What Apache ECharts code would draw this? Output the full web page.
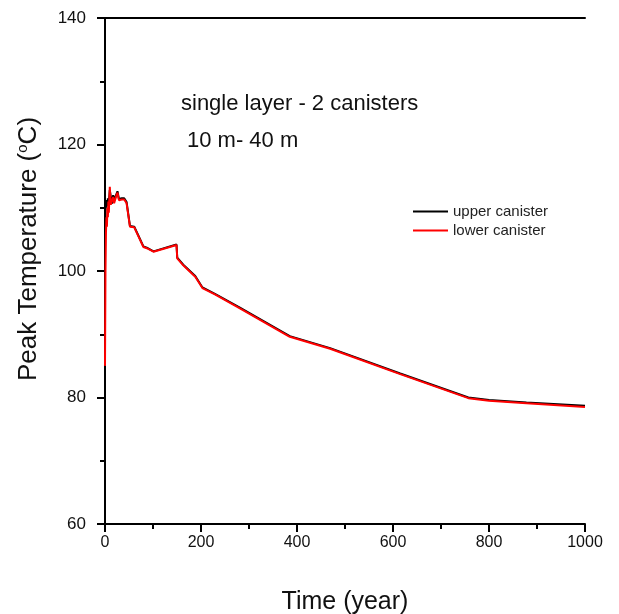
<!DOCTYPE html>
<html><head><meta charset="utf-8">
<script src="https://cdn.jsdelivr.net/npm/echarts@6/dist/echarts.min.js"></script>
<style>html,body{margin:0;padding:0;background:#fff}#c{width:619px;height:614px}</style>
</head><body><div id="c"></div>
<script>
const xTicks = [0, 200, 400, 600, 800, 1000];
const yTicks = [60, 80, 100, 120, 140];
const upperTime = [0, 1, 2, 3, 4, 5, 6, 8, 10, 12, 14, 17, 19, 21, 24, 26, 29, 35, 40, 45, 52, 61, 80, 87, 101, 149, 150.5, 163, 188, 203, 229, 281, 385, 469, 615, 757, 800, 878, 1000];
const upperTemp = [106, 109.5, 110.5, 110, 111.2, 110.3, 111.5, 110.8, 112.8, 111.8, 110.6, 112.0, 111.2, 111.4, 112.2, 112.6, 111.4, 111.5, 111.5, 110.9, 107.1, 107.0, 103.9, 103.7, 103.1, 104.2, 102.1, 101.0, 99.2, 97.4, 96.4, 94.2, 89.7, 87.8, 83.8, 80.0, 79.6, 79.2, 78.7];
const lowerTime = [0, 1, 2, 3, 4, 5, 6, 7, 8, 10, 12, 14, 17, 19, 21, 24, 26, 29, 35, 40, 45, 52, 61, 80, 87, 101, 149, 150.5, 163, 188, 203, 229, 281, 385, 469, 615, 757, 800, 878, 1000];
const lowerTemp = [85, 100, 106, 108.5, 107, 110, 108.5, 111, 109.2, 113.3, 110.5, 110.2, 111.7, 110.7, 111.0, 112.0, 112.4, 111.2, 111.3, 111.3, 110.7, 107.0, 106.9, 103.8, 103.6, 103.05, 104.1, 102.0, 100.9, 99.1, 97.3, 96.3, 94.1, 89.6, 87.7, 83.7, 79.9, 79.5, 79.1, 78.5];
const seriesNames = ['upper canister', 'lower canister'];
const xName = 'Time (year)';
const yNameMain = 'Peak Temperature (';
const yNameSup = 'o';
const yNameEnd = 'C)';
const annotation1 = 'single layer - 2 canisters';
const annotation2 = '10 m- 40 m';

const pair = (xs, ys) => xs.map((x, i) => [x, ys[i]]);
const F = 'Arial, "Liberation Sans", sans-serif';
const chart = echarts.init(document.getElementById('c'));
chart.setOption({
  animation: false,
  backgroundColor: '#fff',
  grid: { left: 105, top: 18, width: 480, height: 506, show: false, containLabel: false, outerBoundsMode: 'none' },
  legend: {
    left: 408, top: 199, orient: 'vertical', itemWidth: 35, itemHeight: 2, itemGap: 4,
    icon: 'rect',
    textStyle: { fontFamily: F, fontSize: 15, color: '#222' },
    data: seriesNames
  },
  xAxis: [{
    type: 'value', min: 0, max: 1000, interval: 200,
    name: xName, nameLocation: 'middle', nameGap: 66,
    nameTextStyle: { fontFamily: F, fontSize: 25, color: '#111' },
    axisLine: { lineStyle: { color: '#000', width: 2 } },
    axisTick: { inside: false, length: 8, lineStyle: { color: '#000', width: 2 } },
    minorTick: { show: true, splitNumber: 2, length: 5, lineStyle: { color: '#000', width: 2 } },
    axisLabel: { fontFamily: F, fontSize: 16, color: '#111', margin: 11, formatter: v => xTicks.includes(v) ? String(v) : '' },
    splitLine: { show: false }
  }, {
    type: 'value', min: 0, max: 1000, position: 'top',
    axisLine: { show: true, lineStyle: { color: '#000', width: 2 } },
    axisTick: { show: false }, axisLabel: { show: false }, splitLine: { show: false }
  }],
  yAxis: [{
    type: 'value', min: 60, max: 140, interval: 20,
    axisLine: { lineStyle: { color: '#000', width: 2 } },
    axisTick: { inside: false, length: 8, lineStyle: { color: '#000', width: 2 } },
    minorTick: { show: true, splitNumber: 2, length: 5, lineStyle: { color: '#000', width: 2 } },
    axisLabel: { fontFamily: F, fontSize: 17, color: '#111', margin: 19, formatter: v => yTicks.includes(v) ? String(v) : '' },
    splitLine: { show: false }
  }, {
    type: 'value', min: 60, max: 140, position: 'right',
    axisLine: { show: true, lineStyle: { color: '#000', width: 2 } },
    axisTick: { show: false }, axisLabel: { show: false }, splitLine: { show: false }
  }],
  graphic: [
    { type: 'text', left: 181, top: 93, style: { text: annotation1, font: '22px ' + F, fill: '#111' } },
    { type: 'text', left: 187, top: 130, style: { text: annotation2, font: '22px ' + F, fill: '#111' } },
    { type: 'text', x: 29, y: 249, rotation: Math.PI / 2,
      style: {
        text: '{n|' + yNameMain + '}{s|' + yNameSup + '}{n|' + yNameEnd + '}',
        align: 'center', verticalAlign: 'middle',
        rich: {
          n: { fontFamily: F, fontSize: 26, fill: '#111', color: '#111' },
          s: { fontFamily: F, fontSize: 15, fill: '#111', color: '#111', verticalAlign: 'top', padding: [0, 0, 13, 0] }
        }
      } }
  ],
  series: [
    { name: seriesNames[0], type: 'line', data: pair(upperTime, upperTemp), showSymbol: false, symbol: 'none',
      lineStyle: { color: '#000', width: 2 }, itemStyle: { color: '#000' } },
    { name: seriesNames[1], type: 'line', data: pair(lowerTime, lowerTemp), showSymbol: false, symbol: 'none',
      lineStyle: { color: '#ff0000', width: 2 }, itemStyle: { color: '#ff0000' } }
  ]
});
</script></body></html>
